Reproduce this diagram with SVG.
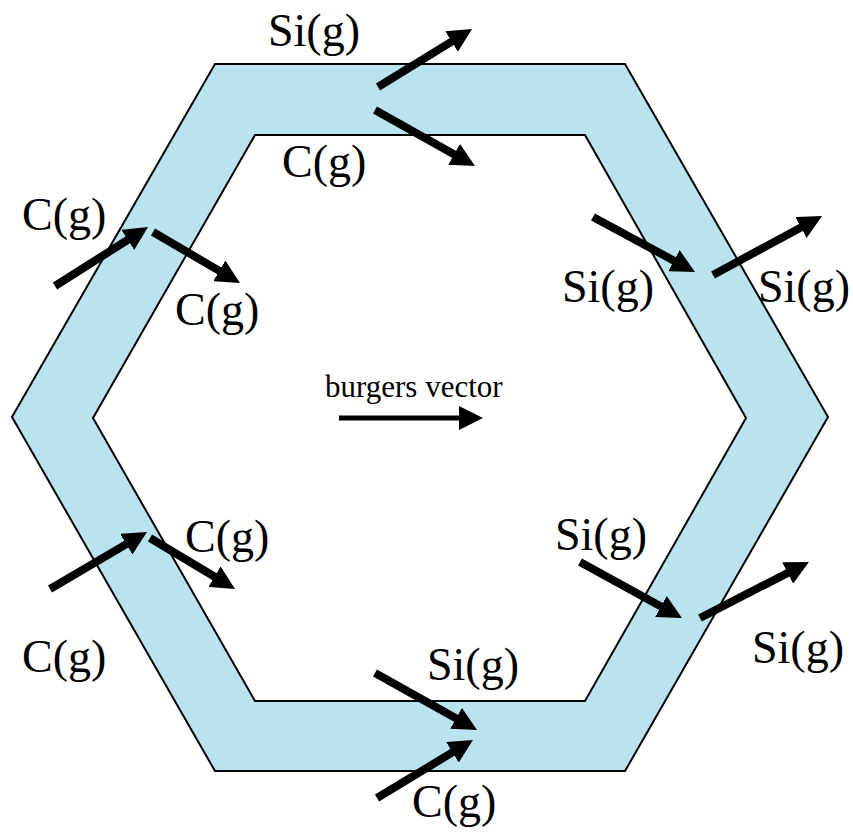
<svg xmlns="http://www.w3.org/2000/svg" width="853" height="833" viewBox="0 0 853 833">
<style>
.lbl{font-family:"Liberation Serif","Times New Roman",serif;font-size:46px;fill:#000}
.bv{font-family:"Liberation Serif","Times New Roman",serif;font-size:31px;fill:#000}
.arr{stroke:#000;stroke-width:8;fill:none;marker-end:url(#ah)}
</style>
<defs>
<marker id="ah" viewBox="0 0 24 24" markerWidth="24" markerHeight="24" refX="10" refY="12" orient="auto" markerUnits="userSpaceOnUse">
<path d="M0,0 L24,12 L0,24 z" fill="#000"/>
</marker>
</defs>
<rect width="853" height="833" fill="#fff"/>
<g id="ring">
<path d="M215,64 L625,64 L828,417 L625,771 L215,771 L12,417 Z M255,135 L93,418 L255,701 L585,701 L746,418 L585,135 Z" fill="#bae3f0" fill-rule="evenodd" stroke="#000" stroke-width="2"/>
</g>
<g id="connectors">
<line class="arr" x1="378" y1="87" x2="460.1" y2="36.3"/>
<line class="arr" x1="375" y1="110" x2="462.8" y2="159.2"/>
<line class="arr" x1="55" y1="286" x2="136.2" y2="234.5"/>
<line class="arr" x1="153" y1="232" x2="227.9" y2="275.9"/>
<line class="arr" x1="593" y1="217" x2="682.7" y2="265.4"/>
<line class="arr" x1="713" y1="275" x2="809.7" y2="222.7"/>
<line class="arr" x1="50" y1="589" x2="134.9" y2="539.1"/>
<line class="arr" x1="150" y1="538" x2="223" y2="581.8"/>
<line class="arr" x1="580" y1="562" x2="669.7" y2="611.3"/>
<line class="arr" x1="700" y1="618" x2="796.5" y2="568.4"/>
<line class="arr" x1="375" y1="673" x2="464.8" y2="723.2"/>
<line class="arr" x1="377" y1="798" x2="461" y2="747.2"/>
<line class="arr" style="stroke-width:5" x1="339" y1="418" x2="469" y2="418"/>
</g>
<g id="labels">
<text class="lbl" x="268" y="46">Si(g)</text>
<text class="lbl" x="282" y="177">C(g)</text>
<text class="lbl" x="22" y="230">C(g)</text>
<text class="lbl" x="175" y="325">C(g)</text>
<text class="lbl" x="562" y="302">Si(g)</text>
<text class="lbl" x="758" y="302">Si(g)</text>
<text class="lbl" x="185" y="552">C(g)</text>
<text class="lbl" x="22" y="672">C(g)</text>
<text class="lbl" x="555" y="550">Si(g)</text>
<text class="lbl" x="752" y="663">Si(g)</text>
<text class="lbl" x="427" y="680">Si(g)</text>
<text class="lbl" x="412" y="817">C(g)</text>
<text class="bv" x="325" y="397">burgers vector</text>
</g>
</svg>
